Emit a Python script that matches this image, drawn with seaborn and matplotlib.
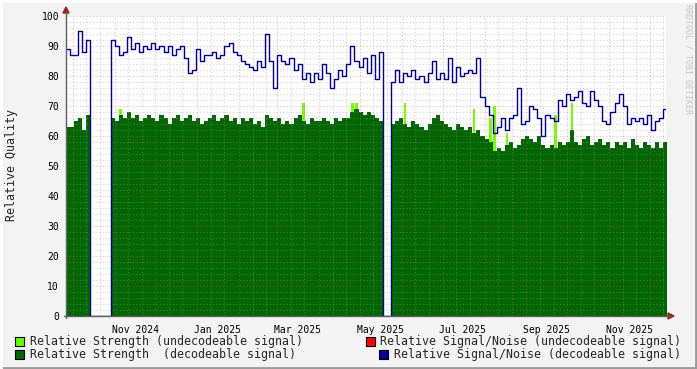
import numpy as np
import pandas as pd
import matplotlib
matplotlib.use("Agg")
import matplotlib.pyplot as plt
import matplotlib.dates as mdates
from matplotlib.lines import Line2D
from matplotlib.patches import Rectangle, Polygon
from matplotlib.transforms import IdentityTransform
import seaborn as sns

# samples every 3 days, starting 2024-09-26 (0 = no data)
start_date = "2024-09-26"
step_days = 3

signal_noise = [89, 87, 87, 95, 88, 92, 0, 0, 0, 0,
                0, 92, 90, 87, 88, 93, 89, 91, 88, 90,
                89, 91, 89, 90, 88, 90, 87, 89, 90, 86,
                81, 82, 89, 85, 87, 87, 88, 86, 87, 90,
                91, 88, 87, 85, 84, 83, 82, 85, 83, 94,
                85, 76, 87, 85, 84, 86, 82, 84, 79, 81,
                78, 81, 79, 84, 81, 76, 79, 82, 80, 84,
                90, 85, 83, 86, 81, 87, 79, 88, 0, 0,
                78, 82, 78, 81, 80, 82, 79, 80, 78, 81,
                85, 79, 81, 79, 86, 78, 83, 80, 81, 82,
                81, 86, 73, 70, 67, 61, 63, 66, 62, 66,
                67, 76, 64, 65, 70, 69, 66, 60, 67, 66,
                65, 72, 70, 74, 72, 73, 75, 71, 70, 75,
                72, 70, 65, 64, 68, 71, 74, 70, 64, 66,
                65, 66, 64, 67, 62, 65, 66, 69]

strength = [63, 63, 65, 66, 62, 67, 0, 0, 0, 0,
            0, 66, 65, 67, 66, 68, 66, 67, 65, 66,
            67, 66, 65, 67, 66, 64, 66, 67, 65, 66,
            67, 65, 66, 64, 65, 66, 67, 65, 66, 67,
            65, 66, 64, 66, 65, 66, 64, 65, 63, 67,
            66, 65, 66, 64, 65, 64, 66, 67, 65, 64,
            66, 65, 65, 66, 65, 64, 66, 65, 66, 66,
            68, 69, 68, 67, 68, 67, 66, 65, 0, 0,
            64, 65, 66, 64, 63, 65, 64, 63, 62, 64,
            66, 67, 65, 64, 63, 62, 64, 63, 62, 63,
            61, 62, 60, 59, 58, 55, 56, 55, 57, 58,
            56, 57, 59, 60, 59, 58, 60, 57, 56, 57,
            56, 58, 57, 58, 62, 58, 57, 59, 60, 57,
            58, 59, 57, 58, 56, 58, 57, 58, 56, 59,
            57, 56, 58, 57, 56, 58, 56, 58]

# undecodeable strength peaks (sample index, value)
undecodeable_idx = [13, 58, 70, 71, 83, 100, 104, 105, 108, 120, 124]
undecodeable_val = [69, 71, 71, 71, 71, 69, 66, 70, 61, 67, 71]

legend_labels = ["Relative Strength (undecodeable signal)",
                 "Relative Strength  (decodeable signal)",
                 "Relative Signal/Noise (undecodeable signal)",
                 "Relative Signal/Noise (decodeable signal)"]

sns.set_style("white")
plt.rcParams["font.family"] = ["DejaVu Sans Mono"]

W, H = 697, 369
fig = plt.figure(figsize=(W / 100, H / 100), dpi=100, facecolor="#f3f3f3")
ax = fig.add_axes([66 / W, 1 - 316 / H, 600 / W, 300 / H])
ax.set_facecolor("white")

dates = pd.date_range(start_date, periods=len(strength), freq=f"{step_days}D")
edge = dates[-1] + pd.Timedelta(days=step_days)
x_ext = list(dates) + [edge]

# undecodeable peaks behind the decodeable area, only the tips show
lime_x = [dates[i] + pd.Timedelta(days=0.5) for i in undecodeable_idx]
ax.bar(lime_x, undecodeable_val, width=1.8, color="#77ff00", align="edge", lw=0, zorder=1.0)
ax.fill_between(x_ext, strength + [strength[-1]], step="post", color="#006600", lw=0, zorder=1.2)
sns.lineplot(x=x_ext, y=signal_noise + [signal_noise[-1]], drawstyle="steps-post",
             color="#000099", lw=1.0, estimator=None, ax=ax, zorder=3)

ax.set_xlim(pd.Timestamp(start_date), pd.Timestamp(start_date) + pd.Timedelta(days=443))
ax.set_ylim(0, 100)

# grid like rrdtool: grey dotted minor, red dotted major (semi transparent)
ax.set_yticks(range(0, 101, 10))
ax.set_yticks(range(0, 101, 2), minor=True)
ax.xaxis.set_major_locator(mdates.MonthLocator())
ax.xaxis.set_minor_locator(mdates.DayLocator(bymonthday=[11, 21]))
ax.set_axisbelow(False)
ax.grid(which="minor", color="#a0a0a0", alpha=0.45, ls=(0, (1, 2)), lw=0.8)
ax.grid(which="major", color="#e06060", alpha=0.45, ls=(0, (1, 2)), lw=0.8)
ax.xaxis.set_major_formatter(plt.NullFormatter())
ax.tick_params(axis="x", which="major", length=3, color="#e08080", direction="out")
ax.tick_params(axis="x", which="minor", length=2, color="#b0b0b0", direction="out")
ax.tick_params(axis="y", which="major", length=3, color="#808080", labelsize=7, pad=2)
ax.tick_params(axis="y", which="minor", length=0)
for s in ax.spines.values():
    s.set_visible(False)
for lab in ax.get_yticklabels():
    lab.set_color("#000000")

# month labels centred on the month, every second month
for m in pd.date_range("2024-11-01", "2025-11-01", freq="2MS"):
    ax.text(m + pd.Timedelta(days=15), -3, m.strftime("%b %Y"), ha="center", va="top",
            fontsize=7, color="#000000")

ident = IdentityTransform()
def px(x, y):
    return x, H - y

axc = "#606060"
fig.add_artist(Line2D([66, 66], [H - 318, H - 11], color=axc, lw=1, transform=ident))
fig.add_artist(Line2D([64, 670], [H - 316, H - 316], color=axc, lw=1, transform=ident))
fig.add_artist(Polygon([px(63, 13), px(69, 13), px(66, 7)], closed=True, color="#a02020", transform=ident))
fig.add_artist(Polygon([px(668, 313), px(668, 319), px(674, 316)], closed=True, color="#a02020", transform=ident))

fig.text(12 / W, 1 - 165 / H, "Relative Quality", rotation=90, ha="center", va="center", fontsize=8.4)
fig.text(688 / W, 1 - 4 / H, "RRDTOOL / TOBI OETIKER", rotation=-90, ha="center", va="top",
         fontsize=6, color="#c4c4c4")

leg = [(15, 337, "#66ff00", 30, legend_labels[0]),
       (15, 350, "#006600", 30, legend_labels[1]),
       (366, 337, "#ff0000", 380, legend_labels[2]),
       (379, 350, "#000099", 394, legend_labels[3])]
for bx, by, col, tx, txt in leg:
    fig.add_artist(Rectangle(px(bx, by + 9), 9, 9, facecolor=col, edgecolor="#000000", lw=0.8, transform=ident))
    fig.text(tx / W, 1 - (by + 4.5) / H, txt, ha="left", va="center", fontsize=8.4)

# frame border
fig.add_artist(Line2D([0, W], [1, 1], color="#9a9a9a", lw=2, transform=ident))
fig.add_artist(Line2D([W - 1, W - 1], [0, H], color="#9a9a9a", lw=2, transform=ident))
fig.add_artist(Line2D([0, W], [H - 1, H - 1], color="#ffffff", lw=2, transform=ident))
fig.add_artist(Line2D([1, 1], [0, H], color="#ffffff", lw=2, transform=ident))

fig.savefig("out.png", dpi=100, facecolor=fig.get_facecolor())
